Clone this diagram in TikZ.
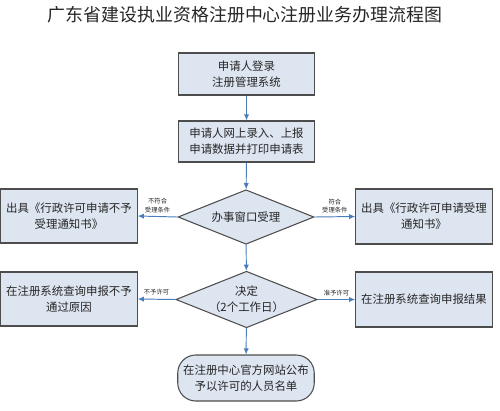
\documentclass[tikz,border=0pt]{standalone}
\usepackage{fontspec}
\newfontfamily\cjk{Noto Sans CJK SC}
\usetikzlibrary{arrows.meta,shapes.geometric}
\definecolor{boxfill}{HTML}{DDE5F0}
\definecolor{boxline}{HTML}{4D4D4D}
\definecolor{flowline}{HTML}{4A7EBB}

\begin{document}
\begin{tikzpicture}[x=0.02cm,y=-0.02cm,
		box/.style={draw=boxline,fill=boxfill,line width=0.6pt,align=center,inner sep=0pt,text=black!85,
			minimum width=2.73cm,font=\cjk\fontsize{6.5}{9}\selectfont},
		decision/.style={diamond,draw=boxline,fill=boxfill,line width=0.6pt,align=center,inner sep=0pt,text=black!85,
			aspect=2.5,minimum width=2.72cm,minimum height=1.09cm,font=\cjk\fontsize{6.5}{9}\selectfont},
		terminal/.style={box,rounded corners=0.36cm,minimum height=0.92cm},
		flow/.style={-{Latex[length=3.5pt,width=3pt]},draw=flowline,line width=0.55pt},
		cond/.style={midway,above,align=center,inner sep=1pt,yshift=1pt,text=black!85,
			font=\cjk\fontsize{3.6}{4.6}\selectfont}]
		\useasboundingbox (0,0) rectangle (500,410);
		% title
		\node[font=\cjk\fontsize{10.2}{12}\selectfont,text=black!85] (title) at (245,15) {广东省建设执业资格注册中心注册业务办理流程图};
		% main column
		\node[box,minimum height=0.84cm] (login) at (246.5,74) {申请人登录\\注册管理系统};
		\node[box,minimum height=0.82cm] (input) at (246.5,141.5) {申请人网上录入、上报\\申请数据并打印申请表};
		\node[decision] (window) at (246,217) {办事窗口受理};
		\node[decision] (decide) at (246.5,299.5) {决定\\（2个工作日）};
		\node[terminal] (publish) at (246,378) {在注册中心官方网站公布\\予以许可的人员名单};
		% side boxes
		\node[box,minimum height=1.08cm] (reject) at (69,216) {出具《行政许可申请不予\\受理通知书》};
		\node[box,minimum height=1.1cm] (accept) at (424,216.5) {出具《行政许可申请受理\\通知书》};
		\node[box,minimum height=1.08cm] (denied) at (69,299) {在注册系统查询申报不予\\通过原因};
		\node[box,minimum height=1.1cm] (result) at (424,299.5) {在注册系统查询申报结果};
		% connectors
		\draw[flow] (login) -- (input);
		\draw[flow] (input) -- (window);
		\draw[flow] (window) -- (decide);
		\draw[flow] (decide) -- (publish);
		\draw[flow] (window.west) -- (reject.east) node[cond] {不符合\\受理条件};
		\draw[flow] (window.east) -- (accept.west) node[cond] {符合\\受理条件};
		\draw[flow] (decide.west) -- (denied.east) node[cond] {不予许可};
		\draw[flow] (decide.east) -- (result.west) node[cond] {准予许可};
	\end{tikzpicture}
\end{document}
